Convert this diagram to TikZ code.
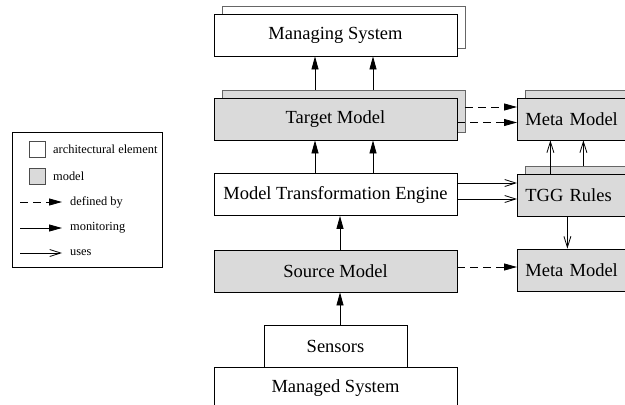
\documentclass[tikz,border=0pt]{standalone}
\usepackage{fontspec}
\setmainfont{Liberation Serif}
\usetikzlibrary{arrows.meta,shadows}

\definecolor{mdlgray}{RGB}{218,218,218}

\tikzset{
        box/.style={draw,rectangle,line width=0.8pt,minimum height=42pt,inner sep=0pt,font=\fontsize{18.5}{22}\selectfont},
        arch/.style={box,fill=white},
        mdl/.style={box,fill=mdlgray},
        stack/.style={copy shadow={shadow xshift=8pt,shadow yshift=8pt,fill=#1,draw=black!60}},
        side/.style={text width=94pt,align=left,inner xsep=8pt},
        lbl/.style={anchor=west,inner sep=0pt,font=\fontsize{12.4}{14}\selectfont},
        mon/.style={-{Triangle[length=13pt,width=7pt]},line width=0.8pt},
        defby/.style={mon,dash pattern=on 8pt off 5pt},
        uses/.style={-{Straight Barb[length=11pt,width=7pt]},line width=0.8pt}
}

\begin{document}
\begin{tikzpicture}[x=1pt,y=-1pt]
        \useasboundingbox (0,0) rectangle (625,405);
        \clip (0,0) rectangle (625,405);
        % main column
        \node[arch,stack=white,minimum width=243pt] (ms) at (335.5,35) {Managing System};
        \node[mdl,stack=mdlgray,minimum width=243pt] (tm) at (335.5,119) {Target Model};
        \node[arch,minimum width=243pt] (mte) at (335.5,194.5) {Model Transformation Engine};
        \node[mdl,minimum width=243pt] (sm) at (335.5,271) {Source Model};
        \node[arch,minimum width=143pt] (sens) at (335.5,346) {Sensors};
        \node[arch,minimum width=243pt] (mgd) at (335.5,388) {Managed System};
        % right column
        \node[mdl,side,stack=mdlgray,anchor=west] (mmt) at (517,119) {Meta Model};
        \node[mdl,side,stack=mdlgray,anchor=west] (tgg) at (517,195) {TGG Rules};
        \node[mdl,side,anchor=west] (mmb) at (517,270) {Meta Model};

        % monitoring
        \draw[mon] ([xshift=-20.5pt,yshift=8pt]tm.north) -- ([xshift=-20.5pt]ms.south);
        \draw[mon] ([xshift=37.5pt,yshift=8pt]tm.north) -- ([xshift=37.5pt]ms.south);
        \draw[mon] ([xshift=-20.5pt]mte.north) -- ([xshift=-20.5pt]tm.south);
        \draw[mon] ([xshift=37.5pt]mte.north) -- ([xshift=37.5pt]tm.south);
        \draw[mon] ([xshift=4.5pt]sm.north) -- ([xshift=4.5pt]mte.south);
        \draw[mon] ([xshift=4.5pt]sens.north) -- ([xshift=4.5pt]sm.south);
        % defined by
        \draw[defby] ([xshift=8pt,yshift=12pt]tm.east) -- ([yshift=12pt]mmt.west);
        \draw[defby] ([yshift=-3.5pt]tm.east) -- ([yshift=-3.5pt]mmt.west);
        \draw[defby] ([yshift=4pt]sm.east) -- ([yshift=4pt]sm.east -| mmb.west);
        % uses
        \draw[uses] ([yshift=11.5pt]mte.east) -- ([yshift=11.5pt]mte.east -| tgg.west);
        \draw[uses] ([yshift=-4.5pt]mte.east) -- ([yshift=-4.5pt]mte.east -| tgg.west);
        \draw[uses] ([xshift=-22pt]tgg.north) -- ([xshift=-22pt]mmt.south);
        \draw[uses] ([xshift=11pt,yshift=8pt]tgg.north) -- ([xshift=11pt]mmt.south);
        \draw[uses] ([xshift=-5pt]tgg.south) -- ([xshift=-5pt]mmb.north);

        % legend
        \node[draw,line width=0.8pt,minimum width=150pt,minimum height=135pt,anchor=north west] (lgd) at (12,132) {};
        \node[draw=black!70,fill=white,minimum size=16pt,inner sep=0pt] (lsqa) at (37.5,149) {};
        \node[lbl] (lta) at (53,149) {architectural element};
        \node[draw=black!70,fill=mdlgray,minimum size=16pt,inner sep=0pt] (lsqb) at (37.5,176.5) {};
        \node[lbl] (ltb) at (53,176.5) {model};
        \coordinate (lca) at (20,202);
        \coordinate (lcb) at (62,202);
        \draw[defby] (lca) -- (lcb);
        \node[lbl] (ltc) at (70,202) {defined by};
        \coordinate (lcc) at (20,228);
        \coordinate (lcd) at (62,228);
        \draw[mon] (lcc) -- (lcd);
        \node[lbl] (ltd) at (70,228) {monitoring};
        \coordinate (lce) at (20,253);
        \coordinate (lcf) at (62,253);
        \draw[uses] (lce) -- (lcf);
        \node[lbl] (lte) at (70,253) {uses};
\end{tikzpicture}
\end{document}
